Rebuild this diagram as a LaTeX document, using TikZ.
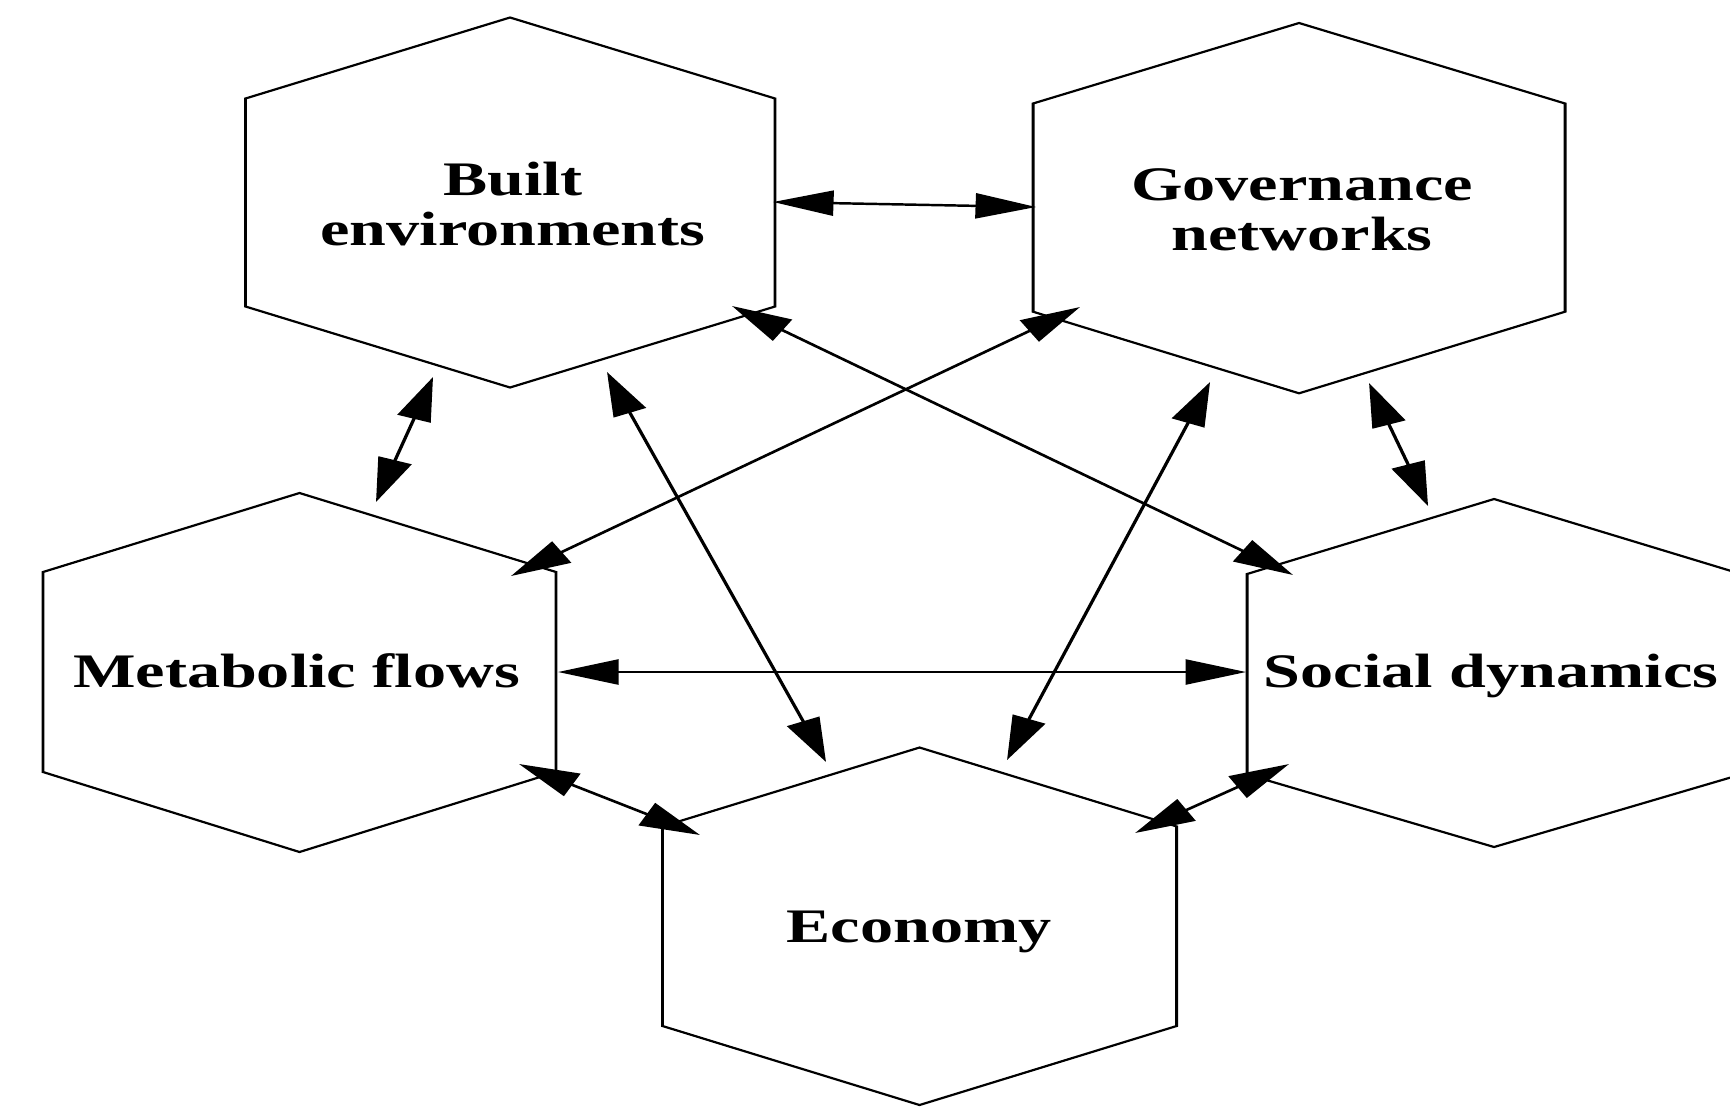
\documentclass[tikz,border=0pt]{standalone}
\usepackage{fontspec}
\setmainfont{Liberation Serif}
\usetikzlibrary{arrows.meta}

\tikzset{
  hexa/.style={line width=0.6pt},
  hexlabel/.style={inner sep=0pt, align=center, font=\fontsize{13.7pt}{14.3pt}\selectfont\bfseries},
  twoway/.style={line width=0.7pt, {Triangle[length=4.4mm,width=2.5mm]}-{Triangle[length=4.4mm,width=2.5mm]}},
}

\begin{document}
\begin{tikzpicture}

  \useasboundingbox (0,0) rectangle (17.30,-11.08);

  % whole figure is stretched sideways
  \begin{scope}[transform canvas={xscale=1.375}, x=0.7273cm]

  % Hexagons
  \draw[hexa] (2.455,-0.985) -- (5.10,-0.175) -- (7.75,-0.985) -- (7.75,-3.065) -- (5.10,-3.875) -- (2.455,-3.065) -- cycle;
  \draw[hexa] (10.33,-1.035) -- (12.99,-0.23) -- (15.65,-1.035) -- (15.65,-3.117) -- (12.99,-3.933) -- (10.33,-3.117) -- cycle;
  \draw[hexa] (0.43,-5.72) -- (2.995,-4.93) -- (5.56,-5.72) -- (5.56,-7.72) -- (2.995,-8.52) -- (0.43,-7.72) -- cycle;
  \draw[hexa] (6.625,-8.264) -- (9.195,-7.475) -- (11.765,-8.264) -- (11.765,-10.26) -- (9.195,-11.05) -- (6.625,-10.26) -- cycle;
  \draw[hexa] (12.47,-5.74) -- (14.94,-4.99) -- (17.41,-5.74) -- (17.41,-7.744) -- (14.94,-8.47) -- (12.47,-7.744) -- cycle;

  % Labels
  \node[hexlabel] (built) at (5.13,-2.04) {Built\\environments};
  \node[hexlabel] (gov) at (13.02,-2.10) {Governance\\networks};
  \node[hexlabel] (meta) at (2.965,-6.705) {Metabolic flows};
  \node[hexlabel] (social) at (14.91,-6.758) {Social dynamics};
  \node[hexlabel] (econ) at (9.19,-9.315) {Economy};

  % Arrow ends
  \coordinate (built-g) at (7.73,-2.02);
  \coordinate (gov-b) at (10.36,-2.07);
  \coordinate (built-m) at (4.33,-3.77);
  \coordinate (meta-b) at (3.76,-5.02);
  \coordinate (built-e) at (6.07,-3.72);
  \coordinate (econ-b) at (8.26,-7.62);
  \coordinate (built-s) at (7.32,-3.06);
  \coordinate (social-b) at (12.93,-5.75);
  \coordinate (gov-m) at (10.80,-3.07);
  \coordinate (meta-g) at (5.11,-5.76);
  \coordinate (gov-e) at (12.10,-3.82);
  \coordinate (econ-g) at (10.07,-7.60);
  \coordinate (gov-s) at (13.69,-3.83);
  \coordinate (social-g) at (14.28,-5.06);
  \coordinate (meta-s) at (5.58,-6.72);
  \coordinate (social-m) at (12.46,-6.72);
  \coordinate (meta-e) at (5.19,-7.64);
  \coordinate (econ-m) at (7.00,-8.35);
  \coordinate (econ-s) at (11.35,-8.33);
  \coordinate (social-e) at (12.89,-7.64);

  % Links
  \draw[twoway] (built-g) -- (gov-b);
  \draw[twoway] (built-m) -- (meta-b);
  \draw[twoway] (built-e) -- (econ-b);
  \draw[twoway] (built-s) -- (social-b);
  \draw[twoway] (gov-m) -- (meta-g);
  \draw[twoway] (gov-e) -- (econ-g);
  \draw[twoway] (gov-s) -- (social-g);
  \draw[twoway] (meta-s) -- (social-m);
  \draw[twoway] (meta-e) -- (econ-m);
  \draw[twoway] (econ-s) -- (social-e);

  \end{scope}

\end{tikzpicture}
\end{document}
